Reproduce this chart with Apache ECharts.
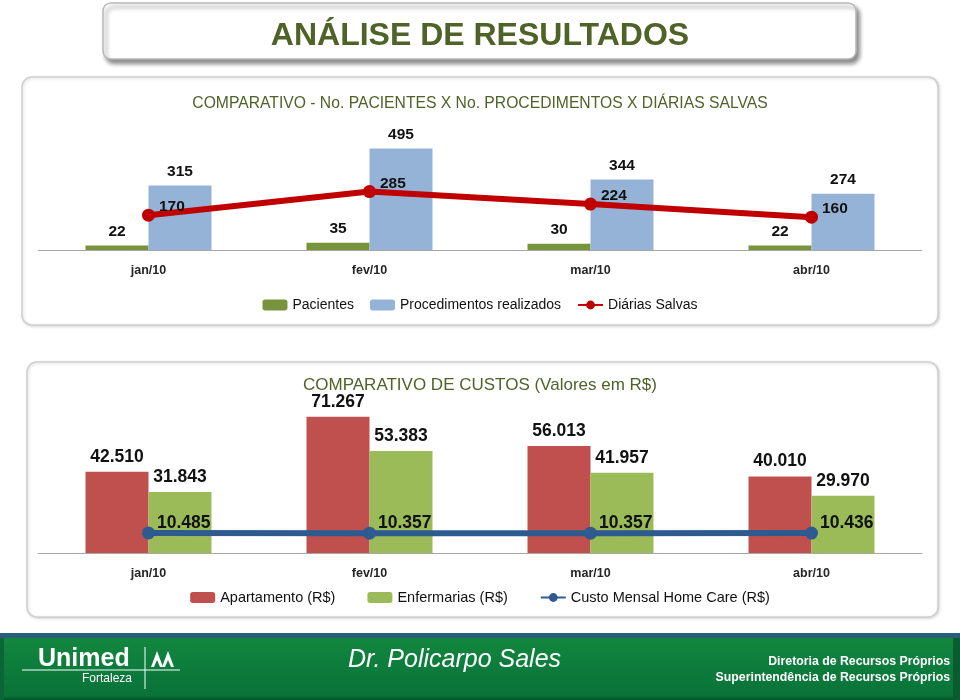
<!DOCTYPE html>
<html>
<head>
<meta charset="utf-8">
<script src="https://cdn.jsdelivr.net/npm/echarts@6/dist/echarts.min.js"></script>
<style>
html,body{margin:0;padding:0;background:#fff;}
#chart{width:960px;height:700px;}
</style>
</head>
<body>
<div id="chart"></div>
<script>
// ---- data ----
var categories = ['jan/10', 'fev/10', 'mar/10', 'abr/10'];
var pacientes = [22, 35, 30, 22];
var procedimentos = [315, 495, 344, 274];
var diarias = [170, 285, 224, 160];
var apartamento = [42510, 71267, 56013, 40010];
var enfermarias = [31843, 53383, 41957, 29970];
var homeCare = [10485, 10357, 10357, 10436];

var olive = '#4F6228';
function fmtBR(v) {
  return String(v).replace(/\B(?=(\d{3})+(?!\d))/g, '.');
}
var labelFont = {fontFamily: 'Liberation Sans, Arial, sans-serif', fontWeight: 'bold', color: '#111'};

var chart = echarts.init(document.getElementById('chart'), null, {renderer: 'canvas'});

var option = {
  backgroundColor: '#ffffff',
  animation: false,
  title: [
    {text: 'ANÁLISE DE RESULTADOS', left: 'center', top: 15,
     textStyle: {color: olive, fontSize: 32, fontWeight: 'bold', fontFamily: 'Liberation Sans Narrow, Arial Narrow, sans-serif'}},
    {text: 'COMPARATIVO - No. PACIENTES X No. PROCEDIMENTOS X DIÁRIAS SALVAS', left: 'center', top: 91,
     textStyle: {color: olive, fontSize: 15.7, fontWeight: 'normal', fontFamily: 'Liberation Sans Narrow, Arial Narrow, sans-serif'}},
    {text: 'COMPARATIVO DE CUSTOS (Valores em R$)', left: 'center', top: 372,
     textStyle: {color: olive, fontSize: 17, fontWeight: 'normal', fontFamily: 'Liberation Sans Narrow, Arial Narrow, sans-serif'}}
  ],
  legend: [
    {top: 293, left: 'center', itemWidth: 25, itemHeight: 11, itemGap: 16,
     data: ['Pacientes', 'Procedimentos realizados', 'Diárias Salvas'],
     textStyle: {fontSize: 14, color: '#111', fontFamily: 'Liberation Sans Narrow, Arial Narrow, sans-serif'}},
    {top: 585, left: 'center', itemWidth: 25, itemHeight: 11, itemGap: 32,
     data: ['Apartamento (R$)', 'Enfermarias (R$)', 'Custo Mensal Home Care (R$)'],
     textStyle: {fontSize: 14.5, color: '#111', fontFamily: 'Liberation Sans Narrow, Arial Narrow, sans-serif'}}
  ],
  grid: [
    {left: 38, right: 38, top: 127, height: 123},
    {left: 38, right: 38, top: 400, height: 153}
  ],
  xAxis: [
    {type: 'category', gridIndex: 0, data: categories,
     axisLine: {lineStyle: {color: '#A6A6A6'}},
     axisTick: {length: 4, lineStyle: {color: '#A6A6A6'}},
     axisLabel: {margin: 14, fontSize: 12.5, fontWeight: 'bold', color: '#262626', fontFamily: 'Liberation Sans, Arial, sans-serif'}},
    {type: 'category', gridIndex: 1, data: categories,
     axisLine: {lineStyle: {color: '#A6A6A6'}},
     axisTick: {length: 4, lineStyle: {color: '#A6A6A6'}},
     axisLabel: {margin: 14, fontSize: 12.5, fontWeight: 'bold', color: '#262626', fontFamily: 'Liberation Sans, Arial, sans-serif'}}
  ],
  yAxis: [
    {type: 'value', gridIndex: 0, min: 0, max: 600, show: false, splitLine: {show: false}},
    {type: 'value', gridIndex: 1, min: 0, max: 80000, show: false, splitLine: {show: false}}
  ],
  series: [
    {name: 'Pacientes', type: 'bar', xAxisIndex: 0, yAxisIndex: 0, data: pacientes,
     barGap: '0%', barCategoryGap: '43%', itemStyle: {color: '#77933C'},
     label: Object.assign({show: true, position: 'top', distance: 6, fontSize: 15.5}, labelFont)},
    {name: 'Procedimentos realizados', type: 'bar', xAxisIndex: 0, yAxisIndex: 0, data: procedimentos,
     barGap: '0%', barCategoryGap: '43%', itemStyle: {color: '#95B3D7'},
     label: Object.assign({show: true, position: 'top', distance: 6, fontSize: 15.5}, labelFont)},
    {name: 'Diárias Salvas', type: 'line', xAxisIndex: 0, yAxisIndex: 0, data: diarias,
     symbol: 'circle', symbolSize: 13, z: 5,
     lineStyle: {color: '#C00000', width: 6}, itemStyle: {color: '#C00000'},
     label: Object.assign({show: true, position: 'right', distance: 4, offset: [0, -8], fontSize: 15.5}, labelFont)},
    {name: 'Apartamento (R$)', type: 'bar', xAxisIndex: 1, yAxisIndex: 1, data: apartamento,
     barGap: '0%', barCategoryGap: '43%', itemStyle: {color: '#C0504D'},
     label: Object.assign({show: true, position: 'top', distance: 6, fontSize: 17.5, formatter: function (p) { return fmtBR(p.value); }}, labelFont)},
    {name: 'Enfermarias (R$)', type: 'bar', xAxisIndex: 1, yAxisIndex: 1, data: enfermarias,
     barGap: '0%', barCategoryGap: '43%', itemStyle: {color: '#9BBB59'},
     label: Object.assign({show: true, position: 'top', distance: 6, fontSize: 17.5, formatter: function (p) { return fmtBR(p.value); }}, labelFont)},
    {name: 'Custo Mensal Home Care (R$)', type: 'line', xAxisIndex: 1, yAxisIndex: 1, data: homeCare,
     symbol: 'circle', symbolSize: 13, z: 5,
     lineStyle: {color: '#2E5B8F', width: 6}, itemStyle: {color: '#2E5B8F'},
     label: Object.assign({show: true, position: 'right', distance: 2, offset: [0, -10], fontSize: 17.5, formatter: function (p) { return fmtBR(p.value); }}, labelFont)}
  ],
  graphic: [
    // title box
    {type: 'rect', z: -10, shape: {x: 103, y: 3, width: 753, height: 56, r: 8},
     style: {fill: '#fff', stroke: '#b8b8b8', lineWidth: 1.5, shadowBlur: 4, shadowOffsetX: 3, shadowOffsetY: 4, shadowColor: 'rgba(0,0,0,0.45)'}},
    // panels
    {type: 'rect', z: -10, shape: {x: 22, y: 77, width: 916, height: 248, r: 10},
     style: {fill: '#fff', stroke: '#d0d0d0', lineWidth: 1.5, shadowBlur: 3, shadowOffsetX: 1, shadowOffsetY: 1, shadowColor: 'rgba(0,0,0,0.15)'}},
    {type: 'rect', z: -10, shape: {x: 27, y: 362, width: 911, height: 255, r: 10},
     style: {fill: '#fff', stroke: '#d0d0d0', lineWidth: 1.5, shadowBlur: 3, shadowOffsetX: 1, shadowOffsetY: 1, shadowColor: 'rgba(0,0,0,0.15)'}},
    // footer
    {type: 'rect', z: -10, shape: {x: 0, y: 633, width: 960, height: 5}, style: {fill: '#2B5E78'}},
    {type: 'rect', z: -10, shape: {x: 0, y: 638, width: 960, height: 62},
     style: {fill: new echarts.graphic.LinearGradient(0, 0, 0, 1, [
       {offset: 0, color: '#13873F'}, {offset: 0.5, color: '#0C7B3C'}, {offset: 0.93, color: '#0A7338'}, {offset: 1, color: '#06512A'}])}},
    {type: 'rect', z: -9, shape: {x: 953, y: 638, width: 7, height: 62}, style: {fill: '#085C2E'}},
    {type: 'rect', z: -9, shape: {x: 0, y: 638, width: 4, height: 62}, style: {fill: '#0A6634'}},
    {type: 'text', z: 1, left: 38, top: 647,
     style: {text: 'Unimed', fill: '#fff', font: '900 25px Liberation Sans, Arial, sans-serif'}},
    {type: 'line', z: 1, shape: {x1: 22, y1: 670, x2: 180, y2: 670}, style: {stroke: '#fff', lineWidth: 1}},
    {type: 'line', z: 1, shape: {x1: 145, y1: 647, x2: 145, y2: 689}, style: {stroke: '#fff', lineWidth: 1}},
    {type: 'polygon', z: 1, shape: {points: [[151, 667], [157, 651], [163, 667], [160, 667], [157, 660], [154, 667]]}, style: {fill: '#fff'}},
    {type: 'polygon', z: 1, shape: {points: [[162, 667], [168, 651], [174, 667], [171, 667], [168, 660], [165, 667]]}, style: {fill: '#fff'}},
    {type: 'text', z: 1, left: 82, top: 673,
     style: {text: 'Fortaleza', fill: '#fff', font: '12px Liberation Sans, Arial, sans-serif'}},
    {type: 'text', z: 1, left: 348, top: 648,
     style: {text: 'Dr. Policarpo Sales', fill: '#fff', font: 'italic 25px Liberation Sans Narrow, Arial Narrow, sans-serif'}},
    {type: 'text', z: 1, right: 10, top: 656,
     style: {text: 'Diretoria de Recursos Próprios', fill: '#fff', font: 'bold 12.3px Liberation Sans Narrow, Arial Narrow, sans-serif', textAlign: 'right'}},
    {type: 'text', z: 1, right: 10, top: 672,
     style: {text: 'Superintendência de Recursos Próprios', fill: '#fff', font: 'bold 12.3px Liberation Sans Narrow, Arial Narrow, sans-serif', textAlign: 'right'}}
  ]
};
chart.setOption(option);
</script>
</body>
</html>
